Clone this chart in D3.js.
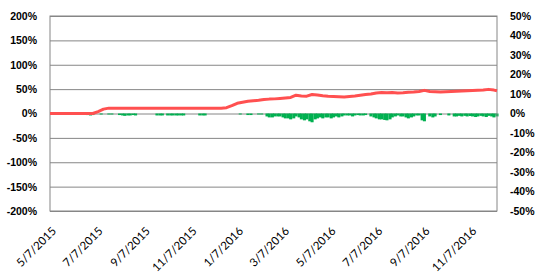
<!DOCTYPE html>
<html>
<head>
<meta charset="utf-8">
<script src="https://cdn.jsdelivr.net/npm/d3@7"></script>
<style>
  body { margin: 0; background: #fff; }
  svg { display: block; }
</style>
</head>
<body>
<div id="chart"></div>
<script>
// 累计收益（左轴）每周
const lineDates = [
  "2015-05-07","2015-05-14","2015-05-21","2015-05-28","2015-06-04","2015-06-11","2015-06-18","2015-06-25",
  "2015-07-02","2015-07-09","2015-07-16","2015-07-23","2015-07-30","2015-08-06","2015-08-13","2015-08-20",
  "2015-08-27","2015-09-03","2015-09-10","2015-09-17","2015-09-24","2015-10-01","2015-10-08","2015-10-15",
  "2015-10-22","2015-10-29","2015-11-05","2015-11-12","2015-11-19","2015-11-26","2015-12-03","2015-12-10",
  "2015-12-17","2015-12-24","2015-12-31","2016-01-07","2016-01-14","2016-01-21","2016-01-28","2016-02-04",
  "2016-02-11","2016-02-18","2016-02-25","2016-03-03","2016-03-10","2016-03-17","2016-03-24","2016-03-31",
  "2016-04-07","2016-04-14","2016-04-21","2016-04-28","2016-05-05","2016-05-12","2016-05-19","2016-05-26",
  "2016-06-02","2016-06-09","2016-06-16","2016-06-23","2016-06-30","2016-07-07","2016-07-14","2016-07-21",
  "2016-07-28","2016-08-04","2016-08-11","2016-08-18","2016-08-25","2016-09-01","2016-09-08","2016-09-15",
  "2016-09-22","2016-09-29","2016-10-06","2016-10-13","2016-10-20","2016-10-27","2016-11-03","2016-11-10",
  "2016-11-17","2016-11-24","2016-12-01","2016-12-08","2016-12-12"
];
const lineValues = [
  0, 0, 0, 0, 0, 0, 0, 0,
  0, 4, 9, 11, 11, 11, 11, 11,
  11, 11, 11, 11, 11, 11, 11, 11,
  11, 11, 11, 11, 11, 11, 11, 11,
  11, 12, 16, 21, 23, 25, 26, 27,
  28.5, 29.5, 30, 31, 32, 33, 37.5, 36,
  35.5, 39, 38, 36.5, 35.5, 35, 34.5, 34,
  35, 36, 37.5, 39, 40, 42, 43, 42.5,
  43, 42, 42.5, 43.5, 44, 45, 47.5, 45,
  44.5, 44, 44.5, 45, 45.5, 46, 46.5, 47,
  47.5, 48, 49.5, 48, 46.5
];

// 回撤（右轴）
const ddDates = [
  "2015-05-21","2015-05-28","2015-06-25","2015-06-29","2015-07-02","2015-07-13","2015-07-23","2015-07-27",
  "2015-08-06","2015-08-10","2015-08-13","2015-08-17","2015-08-20","2015-08-24","2015-08-27",
  "2015-09-24","2015-09-28","2015-10-01","2015-10-08","2015-10-12","2015-10-15","2015-10-19","2015-10-22",
  "2015-10-26","2015-10-29","2015-11-19","2015-11-23","2015-11-26",
  "2016-01-11","2016-01-21","2016-01-25","2016-02-04","2016-02-08","2016-02-15","2016-02-18","2016-02-22",
  "2016-02-25","2016-02-29","2016-03-03","2016-03-07","2016-03-10","2016-03-14","2016-03-17","2016-03-21",
  "2016-03-24","2016-03-28","2016-03-31","2016-04-04","2016-04-07","2016-04-11","2016-04-14","2016-04-18",
  "2016-04-21","2016-04-25","2016-04-28","2016-05-02","2016-05-05","2016-05-09","2016-05-12","2016-05-16",
  "2016-05-19","2016-05-23","2016-05-26","2016-05-30","2016-06-02","2016-06-06","2016-06-09","2016-06-13",
  "2016-06-16","2016-06-20","2016-06-23","2016-06-30","2016-07-04","2016-07-07","2016-07-11","2016-07-14",
  "2016-07-18","2016-07-21","2016-07-25","2016-07-28","2016-08-01","2016-08-04","2016-08-08","2016-08-11",
  "2016-08-15","2016-08-18","2016-08-22","2016-08-25","2016-08-29","2016-09-01","2016-09-05","2016-09-08",
  "2016-09-15","2016-09-19","2016-09-22","2016-09-29","2016-10-10","2016-10-17","2016-10-20","2016-10-24",
  "2016-10-27","2016-10-31","2016-11-03","2016-11-07","2016-11-10","2016-11-14","2016-11-17","2016-11-21",
  "2016-11-24","2016-11-28","2016-12-01","2016-12-05","2016-12-08","2016-12-12"
];
const ddValues = [
  -0.5, -0.5, -0.8, -1, -0.8, -0.5, -0.5, -0.5,
  -0.8, -1, -1.2, -1, -1, -0.8, -1,
  -1, -1, -1, -1, -1, -1, -1, -1,
  -1, -1, -1, -1, -1,
  -0.5, -0.8, -0.8, -0.5, -0.5, -1.5, -2, -2,
  -1.5, -1.5, -1.5, -2, -2.5, -2.5, -3, -2.5,
  -1.5, -2, -3, -3.5, -3, -4, -4.5, -3,
  -2.5, -2, -2.5, -2, -2, -2.5, -2, -1.5,
  -2, -1.5, -1, -1, -1, -1.5, -1, -0.8,
  -1, -1, -0.8, -1.5, -2, -2.5, -3, -3,
  -3.3, -3.5, -3, -2, -1.5, -1, -1.5, -1.5,
  -2, -2.5, -2, -1.5, -1, -1, -3.5, -4,
  -1.5, -2, -1.5, -0.8, -1, -1.5, -1.5, -1.2,
  -1.5, -1.2, -1.5, -1.3, -1.5, -1.8, -1.5, -1.2,
  -1.5, -1.8, -1.2, -1.5, -2, -1.5
];

const leftTicks = [-200, -150, -100, -50, 0, 50, 100, 150, 200];
const rightTicks = [-50, -40, -30, -20, -10, 0, 10, 20, 30, 40, 50];
const xTickLabels = ["5/7/2015","7/7/2015","9/7/2015","11/7/2015","1/7/2016",
  "3/7/2016","5/7/2016","7/7/2016","9/7/2016","11/7/2016"];

function createChart() {
    const width = 548, height = 279;
    const left = 50, right = 497, top = 16, bottom = 211;
    const parse = d3.timeParse("%Y-%m-%d");
    const parseTick = d3.timeParse("%m/%d/%Y");

    const svg = d3.select("#chart")
        .append("svg")
        .attr("width", width)
        .attr("height", height);

    const x = d3.scaleTime()
        .domain([parse("2015-05-07"), parse("2016-12-12")])
        .range([left, right]);

    const yL = d3.scaleLinear().domain([-200, 200]).range([bottom, top]);
    const yR = d3.scaleLinear().domain([-50, 50]).range([bottom, top]);

    // 网格线
    svg.append("g")
        .attr("transform", `translate(${left},0)`)
        .call(d3.axisLeft(yL).tickValues(leftTicks).tickSize(-(right - left)).tickFormat(""))
        .call(g => g.select(".domain").remove())
        .call(g => g.selectAll("line").attr("stroke", "#868686"));

    // 左轴标签
    svg.append("g")
        .attr("transform", `translate(${left},0)`)
        .call(d3.axisLeft(yL).tickValues(leftTicks).tickSize(0).tickPadding(13).tickFormat(d => d + "%"))
        .call(g => g.select(".domain").remove())
        .call(g => g.selectAll("text")
            .attr("font-family", "Liberation Sans, Arial, sans-serif")
            .attr("font-size", "10.5px")
            .attr("font-weight", "bold")
            .attr("fill", "#000"));

    // 右轴标签
    svg.append("g")
        .attr("transform", `translate(${right},0)`)
        .call(d3.axisRight(yR).tickValues(rightTicks).tickSize(0).tickPadding(13).tickFormat(d => d + "%"))
        .call(g => g.select(".domain").remove())
        .call(g => g.selectAll("text")
            .attr("font-family", "Liberation Sans, Arial, sans-serif")
            .attr("font-size", "10.5px")
            .attr("font-weight", "bold")
            .attr("fill", "#000"));

    // 回撤柱
    const dd = ddDates.map((d, i) => ({date: parse(d), value: ddValues[i]}));
    const barW = x(d3.timeDay.offset(parse("2016-01-01"), 4)) - x(parse("2016-01-01"));
    svg.append("g")
        .selectAll("rect")
        .data(dd)
        .enter().append("rect")
        .attr("x", d => x(d.date) - barW / 2)
        .attr("y", yR(0))
        .attr("width", barW)
        .attr("height", d => yR(d.value) - yR(0))
        .attr("fill", "#00B050");

    // 边框
    svg.append("rect")
        .attr("x", left)
        .attr("y", top)
        .attr("width", right - left)
        .attr("height", bottom - top)
        .attr("fill", "none")
        .attr("stroke", "#868686");

    // 累计收益线
    const series = lineDates.map((d, i) => ({date: parse(d), value: lineValues[i]}));
    const line = d3.line()
        .x(d => x(d.date))
        .y(d => yL(d.value));

    svg.append("path")
        .datum(series)
        .attr("fill", "none")
        .attr("stroke", "#FF5050")
        .attr("stroke-width", 3)
        .attr("stroke-linejoin", "round")
        .attr("d", line);

    // x轴标签
    svg.append("g")
        .selectAll("text")
        .data(xTickLabels)
        .enter().append("text")
        .attr("transform", d => `translate(${x(parseTick(d)) + 4},229) rotate(-45)`)
        .attr("text-anchor", "end")
        .attr("dy", "0.35em")
        .attr("font-family", "Lato, Carlito, Calibri, sans-serif")
        .attr("font-size", "11.5px")
        .attr("fill", "#000")
        .text(d => d);
}

createChart();
</script>
</body>
</html>
